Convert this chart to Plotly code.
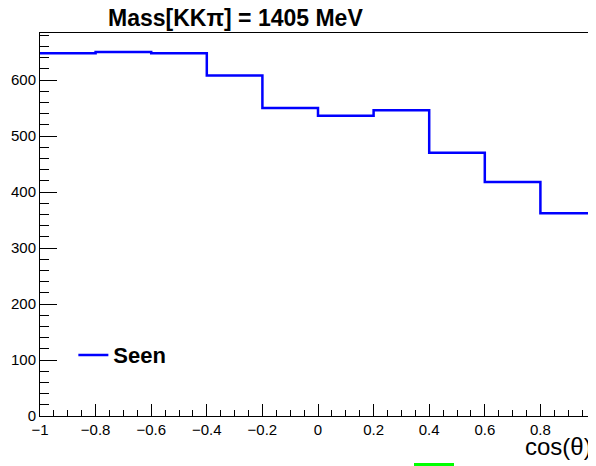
import plotly.graph_objects as go

# Data
bin_edges = [-1.0, -0.8, -0.6, -0.4, -0.2, 0.0, 0.2, 0.4, 0.6, 0.8, 1.0]
counts = [648, 650, 648, 608, 550, 536, 546, 470, 418, 362]
series_name = "Seen"
title_text = "<b>Mass[KKπ] = 1405 MeV</b>"
x_title = "cos(θ)"
x_tick_vals = [-1, -0.8, -0.6, -0.4, -0.2, 0, 0.2, 0.4, 0.6, 0.8]
x_tick_text = ["−1", "−0.8", "−0.6", "−0.4", "−0.2", "0", "0.2", "0.4", "0.6", "0.8"]
y_tick_vals = [0, 100, 200, 300, 400, 500, 600]

x_vals = bin_edges
y_vals = counts + [counts[-1]]

FONT = "Liberation Sans, Arial, Helvetica, sans-serif"

# page body has an 8px default margin; offset figure margins accordingly
OFF = 8
PL, PT, PR, PB = 40, 33, 596, 416  # plot area in page pixels
PW, PH = PR - PL, PB - PT

def px(x):
    return (x - PL) / PW

def py(y):
    return (PB - y) / PH

fig = go.Figure()
fig.add_trace(go.Scatter(
    x=x_vals, y=y_vals, mode="lines", line=dict(shape="hv", color="#0000ff", width=2.5),
    name="<b>" + series_name + "</b>", showlegend=True,
))

fig.update_layout(
    width=596, height=466,
    margin=dict(l=PL - OFF, r=596 - (PR - OFF), t=PT - OFF, b=466 - (PB - OFF), autoexpand=False),
    paper_bgcolor="white", plot_bgcolor="white",
    font=dict(family=FONT, size=15, color="black"),
    showlegend=True,
    legend=dict(x=0.06, y=0.159, xanchor="left", yanchor="middle",
                bgcolor="rgba(0,0,0,0)", font=dict(size=22, color="black"),
                itemwidth=30),
    annotations=[
        dict(text=title_text, x=px(236), y=py(18), xref="paper", yref="paper",
             xanchor="center", yanchor="middle", showarrow=False,
             font=dict(size=23, color="black")),
        dict(text=x_title, x=1.0, y=py(446), xref="paper", yref="paper", xanchor="right",
             yanchor="middle", xshift=-2, showarrow=False, font=dict(size=24, color="black")),
    ],
)

fig.add_shape(type="rect", xref="paper", yref="paper",
              x0=px(414), x1=px(454), y0=py(475), y1=py(463),
              fillcolor="#00ff00", line=dict(width=0))

fig.update_xaxes(
    range=[-1, 1], showgrid=False, zeroline=False, automargin=False,
    showline=True, linecolor="black", linewidth=1, mirror=True,
    ticks="inside", ticklen=12, tickwidth=1, tickcolor="black",
    tickmode="array", tickvals=x_tick_vals, ticktext=x_tick_text, tickangle=0,
    tickfont=dict(size=15),
    minor=dict(ticks="inside", ticklen=6, dtick=0.05, tick0=-1, tickcolor="black", showgrid=False),
)
fig.update_yaxes(
    range=[0, 684], showgrid=False, zeroline=False, automargin=False,
    showline=True, linecolor="black", linewidth=1, mirror=True,
    ticks="inside", ticklen=17, tickwidth=1, tickcolor="black",
    tickmode="array", tickvals=y_tick_vals, tickfont=dict(size=15),
    minor=dict(ticks="inside", ticklen=9, dtick=20, tick0=0, tickcolor="black", showgrid=False),
)

fig.write_html("out.html")
